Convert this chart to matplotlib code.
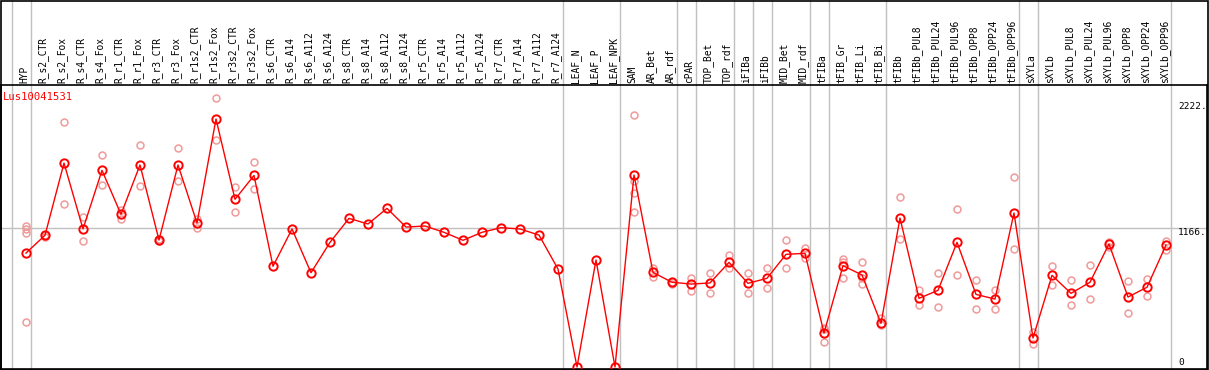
import matplotlib
matplotlib.use("Agg")
import matplotlib.pyplot as plt
from matplotlib.patches import Rectangle
from matplotlib.transforms import blended_transform_factory

# column labels (one per sample)
labels = ["HYP", "R_s2_CTR", "R_s2_Fox", "R_s4_CTR", "R_s4_Fox", "R_r1_CTR", "R_r1_Fox",
          "R_r3_CTR", "R_r3_Fox", "R_r1s2_CTR", "R_r1s2_Fox", "R_r3s2_CTR", "R_r3s2_Fox",
          "R_s6_CTR", "R_s6_A14", "R_s6_A112", "R_s6_A124", "R_s8_CTR", "R_s8_A14",
          "R_s8_A112", "R_s8_A124", "R_r5_CTR", "R_r5_A14", "R_r5_A112", "R_r5_A124",
          "R_r7_CTR", "R_r7_A14", "R_r7_A112", "R_r7_A124", "LEAF_N", "LEAF_P", "LEAF_NPK",
          "SAM", "AR_Bet", "AR_rdf", "cPAR", "TOP_Bet", "TOP_rdf", "iFIBa", "iFIBb",
          "MID_Bet", "MID_rdf", "tFIBa", "tFIB_Gr", "tFIB_Li", "tFIB_Bi", "tFIBb",
          "tFIBb_PUL8", "tFIBb_PUL24", "tFIBb_PUL96", "tFIBb_OPP8", "tFIBb_OPP24",
          "tFIBb_OPP96", "sXYLa", "sXYLb", "sXYLb_PUL8", "sXYLb_PUL24", "sXYLb_PUL96",
          "sXYLb_OPP8", "sXYLb_OPP24", "sXYLb_OPP96"]

# mean expression per sample
means = [956, 1105, 1711, 1158, 1650, 1281, 1695, 1065, 1695, 1208, 2081, 1407, 1607,
         845, 1158, 791, 1046, 1247, 1200, 1331, 1174, 1183, 1130, 1063, 1130, 1169, 1158,
         1107, 822, 0, 898, 0, 1611, 794, 711, 696, 705, 878, 702, 744, 945, 954, 285,
         850, 772, 366, 1250, 576, 643, 1046, 609, 570, 1292, 243, 769, 618, 711, 1032,
         587, 669, 1023]

# replicate values per sample
replicates = [[1183, 1155, 1127, 375], [1090, 1110], [2053, 1365], [1258, 1054],
              [1776, 1524], [1317, 1244], [1860, 1516], [1075, 1058], [1835, 1558],
              [1244, 1169], [2254, 1902], [1507, 1297], [1717, 1490],
              [], [], [], [], [], [], [], [], [], [], [], [], [], [], [], [], [], [], [],
              [2114, 1560, 1457, 1298], [828, 758], [714, 700], [747, 640], [789, 618],
              [940, 828], [789, 618], [828, 660], [1063, 828], [998, 911],
              [327, 316, 212], [906, 884, 744], [878, 749, 694], [408, 352],
              [1426, 1074], [646, 520], [786, 500], [1323, 769], [727, 486], [646, 486],
              [1591, 987], [291, 190], [845, 685], [727, 520], [853, 568], [1049, 1004],
              [719, 450], [736, 593], [1060, 982]]

# group separators: a line after these column indices
separators = [-1, 0, 28, 31, 34, 35, 37, 38, 39, 41, 42, 45, 52, 53, 60]
yticks = [0, 1166, 2222]
title = "Lus10041531"

W, H = 1209, 370
fig = plt.figure(figsize=(W / 100, H / 100), dpi=100)
ax = fig.add_axes([1 / W, 1 / H, 1206 / W, 284 / H])
ax.set_xlim(-1.316, 62.158)
ax.set_ylim(-16.8, 2366)
ax.set_xticks([])
ax.set_yticks([])
for s in ax.spines.values():
    s.set_color("black")
    s.set_linewidth(1.2)

x = list(range(len(labels)))

# separators through the header too
top = 1 + 85 / 284
for i in separators:
    ax.axvline(i + 0.26, ymin=0, ymax=top, color="#c0c0c0", lw=1, clip_on=False, zorder=1)
ax.axhline(1166, color="#c0c0c0", lw=1, zorder=1)

# replicates
rx, ry = [], []
for i, reps in enumerate(replicates):
    for v in reps:
        rx.append(i)
        ry.append(v)
ax.plot(rx, ry, ls="none", marker="o", ms=5, mfc="none", mec="#f09a9a", mew=1.1, zorder=2)

# means
ax.plot(x, means, color="#ff0000", lw=1, marker="o", ms=6, mfc="none", mec="#ff0000",
        mew=1.4, zorder=3)

# header labels
tr = blended_transform_factory(ax.transData, ax.transAxes)
for i, lab in enumerate(labels):
    ax.text(i - 0.1, 1 + 2 / 284, lab, transform=tr, rotation=90, ha="center", va="bottom",
            family="DejaVu Sans Mono", fontsize=6.9, color="black", clip_on=False)

# value labels on the right
for v in yticks:
    ax.text(60.63, v, "0" if v == 0 else f"{v}.", ha="left",
            va="bottom" if v == 0 else "top", family="DejaVu Sans Mono", fontsize=6.8)

ax.text(2 / 1206, 1 - 12 / 284, title, transform=ax.transAxes, color="#ff0000",
        family="DejaVu Sans Mono", fontsize=7.6, ha="left", va="center")

fig.patches.append(Rectangle((0.5 / W, 0.5 / H), 1 - 1.5 / W, 1 - 1 / H, transform=fig.transFigure,
                             fill=False, edgecolor="black", lw=1.2))

fig.savefig("out.png", dpi=100)
